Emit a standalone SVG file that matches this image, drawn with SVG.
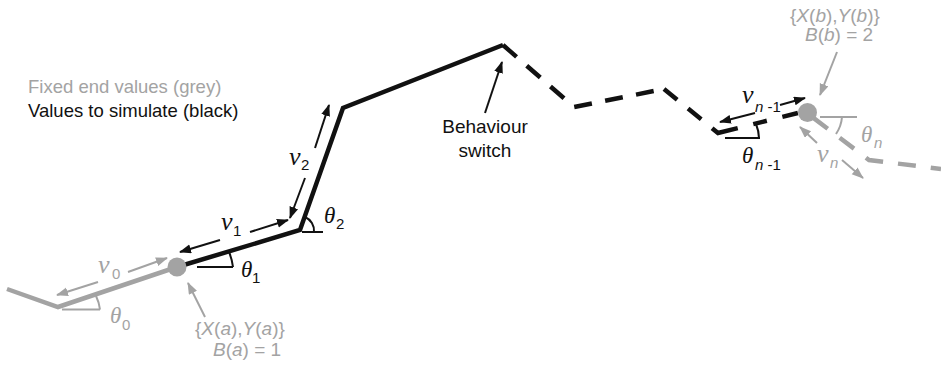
<svg xmlns="http://www.w3.org/2000/svg" width="941" height="366" viewBox="0 0 941 366">
<style>
.blk{fill:none;stroke:#111;stroke-width:4.5;stroke-linejoin:miter;stroke-linecap:butt;}
.gry{fill:none;stroke:#a3a3a3;stroke-width:4.5;stroke-linejoin:miter;}
.arb{fill:none;stroke:#111;stroke-width:2;marker-end:url(#ahb);}
.arg{fill:none;stroke:#a3a3a3;stroke-width:2;marker-end:url(#ahg);}
.angb{fill:none;stroke:#111;stroke-width:2;}
.angg{fill:none;stroke:#a3a3a3;stroke-width:2;}
text{font-family:"Liberation Sans",Arial,sans-serif;}
.lbl{font-size:19px;}
.leg{font-size:18.5px;}
.g{fill:#a3a3a3;}
.k{fill:#111;}
.gk{font-family:"Liberation Serif","Times New Roman",serif;font-style:italic;font-size:26px;}
.th{font-family:"Liberation Serif","Times New Roman",serif;font-style:italic;font-size:23px;}
.sub{font-size:15px;}
.it{font-style:italic;}
</style>
<defs>
<marker id="ahb" markerUnits="userSpaceOnUse" markerWidth="14" markerHeight="10" refX="11" refY="4.5" orient="auto"><path d="M0,0 L12,4.5 L0,9 z" fill="#111"/></marker>
<marker id="ahg" markerUnits="userSpaceOnUse" markerWidth="14" markerHeight="10" refX="11" refY="4.5" orient="auto"><path d="M0,0 L12,4.5 L0,9 z" fill="#a3a3a3"/></marker>
</defs>

<g id="connectors">
  <polyline class="gry" points="7,289 58,307 177,267"/>
  <polyline class="blk" points="177,267 300,230 343,108 503,45"/>
  <polyline class="blk" points="503,45 574,107 664,89" style="stroke-dasharray:18 13.5"/>
  <polyline class="blk" points="664,89 718,133 798,113" style="stroke-dasharray:17 14 17 14 28 16 14 16 16 20"/>
  <polyline class="gry" points="807,113 869,160 941,169" style="stroke-dasharray:18 15;stroke-dashoffset:25"/>

  <line class="arg" x1="128" y1="272" x2="167" y2="258"/>
  <line class="arg" x1="98" y1="282" x2="57" y2="295"/>
  <line class="arb" x1="220" y1="240" x2="180" y2="252"/>
  <line class="arb" x1="250" y1="232" x2="288" y2="220"/>
  <line class="arb" x1="315" y1="148" x2="329" y2="105"/>
  <line class="arb" x1="305" y1="178" x2="290" y2="218"/>
  <line class="arb" x1="485" y1="113" x2="502" y2="62"/>
  <line class="arb" x1="780" y1="105" x2="805" y2="98"/>
  <line class="arb" x1="755" y1="113" x2="720" y2="122"/>
  <line class="arg" x1="205" y1="317" x2="188" y2="283"/>
  <line class="arg" x1="837" y1="52" x2="820" y2="95"/>
  <line class="arg" x1="817" y1="143" x2="800" y2="127"/>
  <line class="arg" x1="842" y1="160" x2="863" y2="178"/>
</g>

<g id="angles">
  <path class="angg" d="M62 309.5 H100 M96 296 A40 40 0 0 1 100 309.5"/>
  <path class="angb" d="M197 267 H233 M229 252 A55 55 0 0 1 233 267"/>
  <path class="angb" d="M302 232 H323 M305 217 A15 15 0 0 1 314 232"/>
  <path class="angb" d="M725 138 H760 M756 124 A40 40 0 0 1 759 138"/>
  <path class="angg" d="M820 117 H857 M836 134 A35 35 0 0 0 842 117"/>
</g>

<g id="node-a">
  <circle cx="177" cy="267" r="9.5" fill="#a3a3a3"/>
  <text class="lbl g" x="195" y="335">{<tspan class="it">X</tspan>(<tspan class="it">a</tspan>),<tspan class="it">Y</tspan>(<tspan class="it">a</tspan>)}</text>
  <text class="lbl g" x="213" y="356"><tspan class="it">B</tspan>(<tspan class="it">a</tspan>) = 1</text>
</g>

<g id="node-b">
  <circle cx="807.5" cy="112.5" r="9.5" fill="#a3a3a3"/>
  <text class="lbl g" x="790" y="22">{<tspan class="it">X</tspan>(<tspan class="it">b</tspan>),<tspan class="it">Y</tspan>(<tspan class="it">b</tspan>)}</text>
  <text class="lbl g" x="805" y="41"><tspan class="it">B</tspan>(<tspan class="it">b</tspan>) = 2</text>
</g>

<g id="switch-label">
  <text class="lbl k" x="485" y="133" text-anchor="middle">Behaviour</text>
  <text class="lbl k" x="485" y="157" text-anchor="middle">switch</text>
</g>

<g id="legend">
  <text class="leg g" x="28" y="93">Fixed end values (grey)</text>
  <text class="leg k" x="28" y="117">Values to simulate (black)</text>
</g>

<g id="symbols">
  <text class="g"><tspan class="gk" x="98" y="273">ν</tspan><tspan class="sub" x="112" y="279">0</tspan></text>
  <text class="g"><tspan class="th" x="110" y="323">θ</tspan><tspan class="sub" x="122" y="330">0</tspan></text>
  <text class="k"><tspan class="gk" x="221" y="230">ν</tspan><tspan class="sub" x="233" y="236">1</tspan></text>
  <text class="k"><tspan class="th" x="241" y="277">θ</tspan><tspan class="sub" x="252" y="283">1</tspan></text>
  <text class="k"><tspan class="gk" x="289" y="165">ν</tspan><tspan class="sub" x="301" y="170">2</tspan></text>
  <text class="k"><tspan class="th" x="324" y="223">θ</tspan><tspan class="sub" x="336" y="229">2</tspan></text>
  <text class="k"><tspan class="gk" x="742" y="103">ν</tspan><tspan class="sub" x="755" y="112"><tspan class="it">n</tspan> -1</tspan></text>
  <text class="k"><tspan class="th" x="742" y="163">θ</tspan><tspan class="sub" x="755" y="170"><tspan class="it">n</tspan> -1</tspan></text>
  <text class="g"><tspan class="th" x="861" y="142">θ</tspan><tspan class="sub it" x="874" y="148">n</tspan></text>
  <text class="g"><tspan class="gk" x="817" y="162">ν</tspan><tspan class="sub it" x="830" y="168">n</tspan></text>
</g>
</svg>
